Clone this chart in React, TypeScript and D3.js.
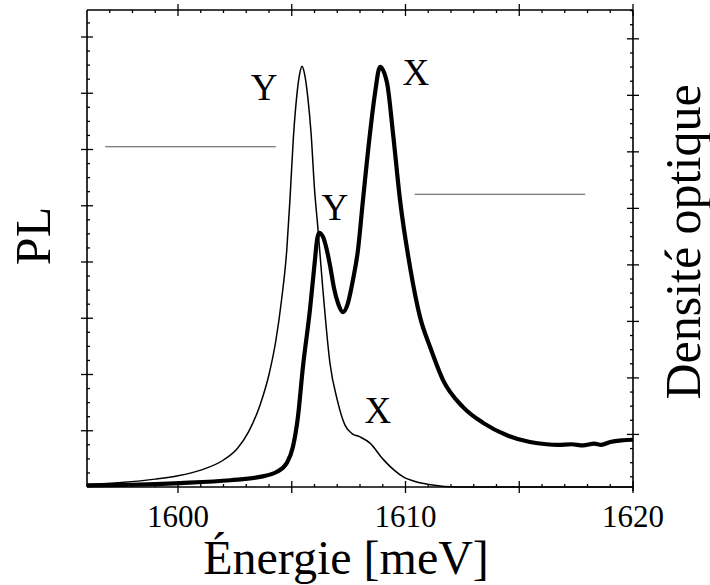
import React from "react";
import * as d3 from "d3";

// PL spectrum (thin curve), energy in meV, intensity in arbitrary units
const plEnergy = [1596.0, 1597.5, 1599.0, 1600.0, 1601.0, 1602.0, 1602.6, 1603.1, 1603.6, 1604.0, 1604.3, 1604.55, 1604.78, 1604.92, 1605.07, 1605.22, 1605.35, 1605.45, 1605.56, 1605.7, 1605.85, 1606.0, 1606.15, 1606.35, 1606.68, 1607.0, 1607.34, 1607.65, 1608.0, 1608.44, 1609.0, 1609.5, 1609.9, 1610.5, 1611.1, 1612.3, 1616.0, 1620.0];
const plValue = [0.04, 0.08, 0.14, 0.2, 0.3, 0.48, 0.68, 0.98, 1.45, 2.0, 2.6, 3.32, 4.21, 5.1, 6.2, 6.95, 7.35, 7.48, 7.35, 6.95, 6.29, 5.3, 4.6, 3.6, 2.2, 1.55, 1.1, 0.95, 0.89, 0.78, 0.5, 0.3, 0.18, 0.09, 0.04, 0.0, 0.0, 0.0];

// Optical density spectrum (thick curve)
const odEnergy = [1596.0, 1597.9, 1600.1, 1602.3, 1603.6, 1604.35, 1604.79, 1605.05, 1605.27, 1605.49, 1605.8, 1606.02, 1606.11, 1606.2, 1606.37, 1606.55, 1606.7, 1606.85, 1607.05, 1607.25, 1607.47, 1607.69, 1607.91, 1608.13, 1608.44, 1608.66, 1608.88, 1609.19, 1609.45, 1609.76, 1610.2, 1610.64, 1611.08, 1611.65, 1612.53, 1613.41, 1614.46, 1615.47, 1616.2, 1616.7, 1617.3, 1617.8, 1618.3, 1618.6, 1619.0, 1619.5, 1620.0];
const odValue = [0.03, 0.04, 0.07, 0.12, 0.18, 0.27, 0.43, 0.71, 1.24, 2.13, 3.15, 4.04, 4.39, 4.52, 4.45, 4.2, 3.9, 3.55, 3.25, 3.11, 3.27, 3.68, 4.21, 5.1, 6.29, 7.0, 7.47, 7.18, 6.29, 5.1, 3.91, 3.02, 2.49, 1.9, 1.42, 1.14, 0.92, 0.8, 0.76, 0.75, 0.76, 0.74, 0.77, 0.75, 0.8, 0.83, 0.84];

const xMajorTicks = [1600, 1605, 1610, 1615, 1620];
const xTickLabels = [1600, 1610, 1620];
const leftMajorTicks = [1, 2, 3, 4, 5, 6, 7, 8];
const rightMajorTicks = [1, 2, 3, 4, 5, 6, 7, 8];

const peakLabels = [
  { text: "Y", e: 1603.78, v: 6.88 },
  { text: "X", e: 1610.46, v: 7.15 },
  { text: "Y", e: 1606.9, v: 4.75 },
  { text: "X", e: 1608.79, v: 1.14 },
];

const W = 710;
const H = 585;
const L = 87, R = 633, T = 10, B = 487;
const FONT = "Liberation Serif, DejaVu Serif, serif";

export default function App() {
  const x = d3.scaleLinear().domain([1596, 1620]).range([L, R]);
  const y = d3.scaleLinear().domain([0, 8.48]).range([B, T]);
  const yR = d3.scaleLinear().domain([0.07, 8.51]).range([B, T]);

  const line = d3
    .line<[number, number]>()
    .x((d) => x(d[0]))
    .y((d) => y(d[1]))
    .curve(d3.curveMonotoneX);

  const plPath = line(plEnergy.map((e, i) => [e, plValue[i]] as [number, number])) || "";
  const odPath = line(odEnergy.map((e, i) => [e, odValue[i]] as [number, number])) || "";

  const xMinor = d3.range(1597, 1620, 1).filter((v) => v % 5 !== 0);
  const leftMinor = d3.range(0.25, 8.48, 0.25).filter((v) => Math.abs(v - Math.round(v)) > 0.01);
  const rightMinor = d3.range(0.25, 8.51, 0.25).filter((v) => v > 0.1 && Math.abs(v - Math.round(v)) > 0.01);

  const ax = { stroke: "#000", strokeWidth: 1.6 };
  const tk = { stroke: "#000", strokeWidth: 1.3 };

  return (
    <svg width={W} height={H} style={{ position: "absolute", left: 0, top: 0, background: "#fff" }}>
      <rect x={0} y={0} width={W} height={H} fill="#fff" />
      {/* frame */}
      <line x1={L} y1={T} x2={R} y2={T} {...ax} />
      <line x1={L} y1={B} x2={R} y2={B} {...ax} />
      <line x1={L} y1={T} x2={L} y2={B} {...ax} />
      <line x1={R} y1={T} x2={R} y2={B + 4} {...ax} />

      {/* bottom & top ticks */}
      {xMajorTicks.map((v) => (
        <g key={"xm" + v}>
          <line x1={x(v)} x2={x(v)} y1={B - 6} y2={B + 6} {...tk} />
          <line x1={x(v)} x2={x(v)} y1={T - 6} y2={T + 6} {...tk} />
        </g>
      ))}
      {xMinor.map((v) => (
        <g key={"xn" + v}>
          <line x1={x(v)} x2={x(v)} y1={B - 3} y2={B} {...tk} />
          <line x1={x(v)} x2={x(v)} y1={T} y2={T + 3} {...tk} />
        </g>
      ))}

      {/* left ticks */}
      {leftMajorTicks.map((v) => (
        <line key={"lm" + v} x1={L - 6} x2={L + 6} y1={y(v)} y2={y(v)} {...tk} />
      ))}
      {leftMinor.map((v) => (
        <line key={"ln" + v} x1={L} x2={L + 3} y1={y(v)} y2={y(v)} {...tk} />
      ))}

      {/* right ticks */}
      {rightMajorTicks.map((v) => (
        <line key={"rm" + v} x1={R - 6} x2={R + 6} y1={yR(v)} y2={yR(v)} {...tk} />
      ))}
      {rightMinor.map((v) => (
        <line key={"rn" + v} x1={R - 3} x2={R} y1={yR(v)} y2={yR(v)} {...tk} />
      ))}

      {/* reference lines */}
      <line x1={x(1596.8)} x2={x(1604.3)} y1={y(6.05)} y2={y(6.05)} stroke="#555" strokeWidth={1.1} />
      <line x1={x(1610.4)} x2={x(1617.9)} y1={yR(5.25)} y2={yR(5.25)} stroke="#555" strokeWidth={1.1} />

      {/* curves */}
      <path d={plPath} fill="none" stroke="#000" strokeWidth={1.5} />
      <path d={odPath} fill="none" stroke="#000" strokeWidth={4.2} strokeLinejoin="round" />

      {/* peak labels */}
      {peakLabels.map((p, i) => (
        <text key={"pk" + i} x={x(p.e)} y={y(p.v)} fontFamily={FONT} fontSize={37} textAnchor="middle" fill="#000">
          {p.text}
        </text>
      ))}

      {/* tick labels */}
      {xTickLabels.map((v) => (
        <text key={"xl" + v} x={x(v)} y={527} fontFamily={FONT} fontSize={31} textAnchor="middle" fill="#000">
          {v}
        </text>
      ))}

      {/* axis titles */}
      <text x={346} y={574} fontFamily={FONT} fontSize={48} textAnchor="middle" fill="#000">
        Énergie [meV]
      </text>
      <text transform="translate(50,236) rotate(-90)" fontFamily={FONT} fontSize={50} textAnchor="middle" fill="#000">
        PL
      </text>
      <text transform="translate(700,242) rotate(-90)" fontFamily={FONT} fontSize={50} textAnchor="middle" fill="#000">
        Densité optique
      </text>
    </svg>
  );
}
